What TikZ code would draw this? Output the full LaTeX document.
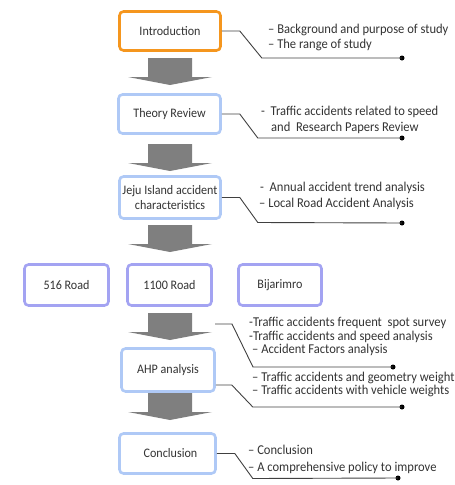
\documentclass[tikz,border=0pt]{standalone}
\usepackage{fontspec}
\setmainfont{Carlito}[FakeStretch=0.93]
\definecolor{orangeC}{HTML}{F5961E}
\definecolor{blueC}{HTML}{AFC9F6}
\definecolor{roadC}{HTML}{A3A3F2}
\definecolor{arrowC}{HTML}{7F7F7F}
\definecolor{lineC}{HTML}{404040}
\definecolor{txtC}{HTML}{333333}
\begin{document}
\begin{tikzpicture}[x=1pt,y=-1pt,
  box/.style={draw, line width=2.6pt, rounded corners=4pt, fill=white, text=txtC,
    font=\fontsize{13}{14.5}\selectfont, align=center, inner sep=1pt},
  introbox/.style={box, draw=orangeC},
  bluebox/.style={box, draw=blueC},
  roadbox/.style={box, draw=roadC},
  conn/.style={draw=lineC, line width=0.9pt},
  dotmark/.style={circle, fill=black, inner sep=0pt, minimum size=5pt},
  note/.style={anchor=base west, inner sep=0pt, text=txtC, font=\fontsize{13.5}{15}\selectfont},
  blockarrow/.pic={\fill[arrowC] (-22,0) -- (22,0) -- (22,19) -- (42,19) -- (0,27) -- (-42,19) -- (-22,19) -- cycle;}
]
\useasboundingbox (0,0) rectangle (455,485);

% main boxes
\node[introbox, minimum width=101pt, minimum height=39pt] (intro) at (170,31) {Introduction};
\node[bluebox, minimum width=102pt, minimum height=39pt] (theory) at (169.5,114) {Theory Review};
\node[bluebox, minimum width=101pt, minimum height=42pt] (jeju) at (170,197.5) {Jeju Island accident\\characteristics};
\node[roadbox, minimum width=84pt, minimum height=41pt] (r516) at (66.5,285) {516 Road};
\node[roadbox, minimum width=84pt, minimum height=41pt] (r1100) at (169.5,285) {1100 Road};
\node[roadbox, minimum width=83pt, minimum height=41pt] (bija) at (280,285) {Bijarimro};
\node[bluebox, minimum width=93pt, minimum height=43pt] (ahp) at (168,370) {AHP analysis};
\node[bluebox, minimum width=96pt, minimum height=40pt] (concl) at (167.5,453.5) {\hspace*{6pt}Conclusion};

% block arrows
\pic at (170,58) {blockarrow};
\pic at (170,144) {blockarrow};
\pic at (170,225) {blockarrow};
\pic at (170,313) {blockarrow};
\pic at (170,393) {blockarrow};

% notes
\node[note] (n1a) at (268,33) {– Background and purpose of study};
\node[note] (n1b) at (268,48) {– The range of study};
\node[note] (n2a) at (261,115) {-\ \ Traffic accidents related to speed};
\node[note] (n2b) at (271,131) {and\ \ Research Papers Review};
\node[note] (n3a) at (260,191) {-\ \ Annual accident trend analysis};
\node[note] (n3b) at (259,207) {– Local Road Accident Analysis};
\node[note] (n4a) at (249,326) {-Traffic accidents frequent\ \ spot survey};
\node[note] (n4b) at (249,340) {-Traffic accidents and speed analysis};
\node[note] (n4c) at (252,353) {– Accident Factors analysis};
\node[note] (n5a) at (252,381) {– Traffic accidents and geometry weight};
\node[note] (n5b) at (252,394) {– Traffic accidents with vehicle weights};
\node[note] (n6a) at (248,454) {– Conclusion};
\node[note] (n6b) at (248,471) {– A comprehensive policy to improve};

% dots
\node[dotmark] (d1) at (402,58) {};
\node[dotmark] (d2) at (402,138) {};
\node[dotmark] (d3) at (402,223) {};
\node[dotmark] (d4) at (393,367) {};
\node[dotmark] (d5) at (402,407) {};
\node[dotmark] (d6) at (398,478) {};
\coordinate (s4) at (215,324);

% connectors
\draw[conn] (intro.east) -- ++(18,0) -- ++(22,27) -- (d1.center);
\draw[conn] (theory.east) -- ++(18,0) -- ++(18,24) -- (d2.center);
\draw[conn] (jeju.east) -- ++(18,0) -- ++(18,25) -- (d3.center);
\draw[conn] (s4) -- ++(17,0) -- ++(21,43) -- (d4.center);
\draw[conn] ([yshift=-15pt]ahp.east) -- ++(16,0) -- ++(21,22) -- (d5.center);
\draw[conn] (concl.east) -- ++(18,0) -- ++(18,25) -- (d6.center);
\end{tikzpicture}
\end{document}
